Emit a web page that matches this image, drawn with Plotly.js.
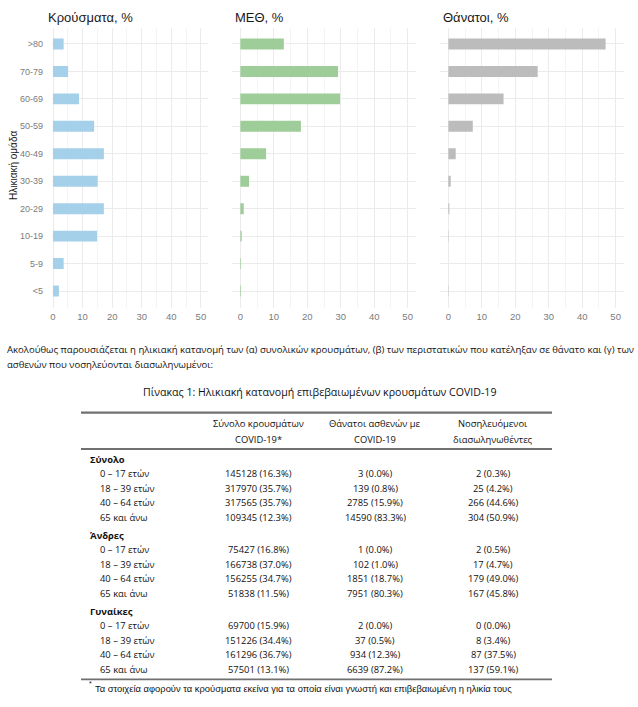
<!DOCTYPE html>
<html><head><meta charset="utf-8">
<script src="https://cdn.plot.ly/plotly-3.0.1.min.js"></script>
<style>html,body{margin:0;padding:0;background:#fff}#chart{width:638px;height:707px}</style>
</head><body><div id="chart"></div>
<script>
// ---- chart data ----
const ageGroups = ['<5','5-9','10-19','20-29','30-39','40-49','50-59','60-69','70-79','>80'];
const casesPct  = [2.0, 3.6, 14.9, 17.2, 15.1, 17.2, 13.9, 8.8, 5.1, 3.6];
const icuPct    = [0.2, 0.2, 0.4, 1.0, 2.6, 7.7, 18.1, 29.8, 29.2, 13.0];
const deathsPct = [0.1, 0.0, 0.1, 0.3, 0.7, 2.2, 7.3, 16.5, 26.7, 47.0];
const panelTitles = ['Κρούσματα, %', 'ΜΕΘ, %', 'Θάνατοι, %'];
const xTicks = [0, 10, 20, 30, 40, 50];
const yAxisTitle = 'Ηλικιακή ομάδα';

// ---- text / table data ----
const introLines = [
  'Ακολούθως παρουσιάζεται η ηλικιακή κατανομή των (α) συνολικών κρουσμάτων, (β) των περιστατικών που κατέληξαν σε θάνατο και (γ) των',
  'ασθενών που νοσηλεύονται διασωληνωμένοι:'
];
const tableTitle = 'Πίνακας 1: Ηλικιακή κατανομή επιβεβαιωμένων κρουσμάτων COVID-19';
const colHeaders = [['Σύνολο κρουσμάτων','COVID-19*'],['Θάνατοι ασθενών με','COVID-19'],['Νοσηλευόμενοι','διασωληνωθέντες']];
const groupLabels = ['Σύνολο','Άνδρες','Γυναίκες'];
const rowLabels = ['0 – 17 ετών','18 – 39 ετών','40 – 64 ετών','65 και άνω'];
const casesN  = [[145128,317970,317565,109345],[75427,166738,156255,51838],[69700,151226,161296,57501]];
const casesP  = [[16.3,35.7,35.7,12.3],[16.8,37.0,34.7,11.5],[15.9,34.4,36.7,13.1]];
const deathsN = [[3,139,2785,14590],[1,102,1851,7951],[2,37,934,6639]];
const deathsP = [[0.0,0.8,15.9,83.3],[0.0,1.0,18.7,80.3],[0.0,0.5,12.3,87.2]];
const intubN  = [[2,25,266,304],[2,17,179,167],[0,8,87,137]];
const intubP  = [[0.3,4.2,44.6,50.9],[0.5,4.7,49.0,45.8],[0.0,3.4,37.5,59.1]];
const footnote = 'Τα στοιχεία αφορούν τα κρούσματα εκείνα για τα οποία είναι γνωστή και επιβεβαιωμένη η ηλικία τους';

// ---- layout helpers ----
const W = 638, H = 707;
const px = x => x / W;
const py = y => 1 - y / H;
const chartFont = 'Liberation Sans, Arial, sans-serif';
const tableFont = 'Open Sans, Noto Sans, sans-serif';

const seriesVals = [casesPct, icuPct, deathsPct];
const colors = ['#a5d0ea', '#9ecd99', '#bcbcbc'];
const domainsPx = [[52, 208], [232, 416], [440, 624]];
const ranges = [[-0.34, 52.4], [-2.5, 52.5], [-2.5, 52.5]];
const titleX = [46, 233, 441];

const traces = seriesVals.map((vals, i) => ({
  type: 'bar', orientation: 'h', y: ageGroups, x: vals, width: 0.4,
  marker: {color: colors[i], line: {width: 0}},
  xaxis: i === 0 ? 'x' : 'x' + (i + 1), yaxis: i === 0 ? 'y' : 'y' + (i + 1),
  hoverinfo: 'skip', showlegend: false
}));

const layout = {
  width: W, height: H, margin: {l: 0, r: 0, t: 0, b: 0},
  paper_bgcolor: '#fff', plot_bgcolor: '#fff', showlegend: false,
  bargap: 0.6, annotations: [], shapes: []
};
const yDomain = [py(307.5), py(27.5)];
for (let i = 0; i < 3; i++) {
  const sfx = i === 0 ? '' : String(i + 1);
  layout['xaxis' + sfx] = {
    domain: [px(domainsPx[i][0]), px(domainsPx[i][1])], range: ranges[i],
    anchor: 'y' + sfx, tickvals: xTicks, ticks: '', zeroline: false, showline: false,
    gridcolor: '#ebebeb', gridwidth: 1,
    minor: {dtick: 5, tick0: 0, showgrid: true, gridcolor: '#f4f4f4', gridwidth: 1},
    tickfont: {family: chartFont, size: 9.5, color: '#7b7b7b'}, ticklabelstandoff: 2, fixedrange: true
  };
  layout['yaxis' + sfx] = {
    domain: yDomain, type: 'category', categoryorder: 'array', categoryarray: ageGroups,
    range: [-0.6, 9.6], anchor: 'x' + sfx, showticklabels: i === 0, ticks: '',
    gridcolor: '#ebebeb', gridwidth: 1, zeroline: false, showline: false,
    tickfont: {family: chartFont, size: 9, color: '#7b7b7b'}, ticklabelstandoff: 8, fixedrange: true
  };
  layout.annotations.push({xref: 'paper', yref: 'paper', x: px(titleX[i]), y: py(17),
    xanchor: 'left', yanchor: 'middle', showarrow: false, text: panelTitles[i],
    font: {family: chartFont, size: 13, color: '#1a1a1a'}});
}
layout.annotations.push({xref: 'paper', yref: 'paper', x: px(13), y: py(166), textangle: -90,
  xanchor: 'center', yanchor: 'middle', showarrow: false, text: yAxisTitle,
  font: {family: chartFont, size: 10, color: '#1a1a1a'}});

function txt(x, y, t, opts) {
  opts = opts || {};
  layout.annotations.push({xref: 'paper', yref: 'paper', x: px(x), y: py(y),
    xanchor: opts.anchor || 'left', yanchor: 'middle', showarrow: false, text: t,
    font: {family: opts.family || tableFont, size: opts.size || 9.4, color: opts.color || '#111'}});
}
// intro paragraph
introLines.forEach((l, k) => txt(5, 349 + k * 15, l, {size: 9.55}));
// table title
txt(320, 392, tableTitle, {anchor: 'center', size: 10.6});
// rules
[[412.7, 2.2], [449, 1.8], [679.3, 1.8]].forEach(r => layout.shapes.push({
  type: 'line', xref: 'paper', yref: 'paper', x0: px(81), x1: px(552), y0: py(r[0]), y1: py(r[0]),
  line: {color: '#707070', width: r[1]}}));
// headers
const colX = [258, 375, 493];
colHeaders.forEach((h, c) => h.forEach((line, k) => txt(colX[c], 424 + k * 15, line, {anchor: 'center'})));
// body
const fmt = (n, p) => n + ' (' + p.toFixed(1) + '%)';
groupLabels.forEach((g, gi) => {
  const gy = 459 + gi * 76;
  txt(88, gy, '<b>' + g + '</b>');
  rowLabels.forEach((r, ri) => {
    const y = gy + 14.5 * (ri + 1);
    txt(98, y, r);
    txt(colX[0], y, fmt(casesN[gi][ri], casesP[gi][ri]), {anchor: 'center'});
    txt(colX[1], y, fmt(deathsN[gi][ri], deathsP[gi][ri]), {anchor: 'center'});
    txt(colX[2], y, fmt(intubN[gi][ri], intubP[gi][ri]), {anchor: 'center'});
  });
});
// footnote
txt(87, 683, '*', {family: chartFont, size: 7});
txt(92.5, 688, footnote, {family: chartFont, size: 9.4});

Plotly.newPlot('chart', traces, layout, {displayModeBar: false, staticPlot: true});
</script></body></html>
